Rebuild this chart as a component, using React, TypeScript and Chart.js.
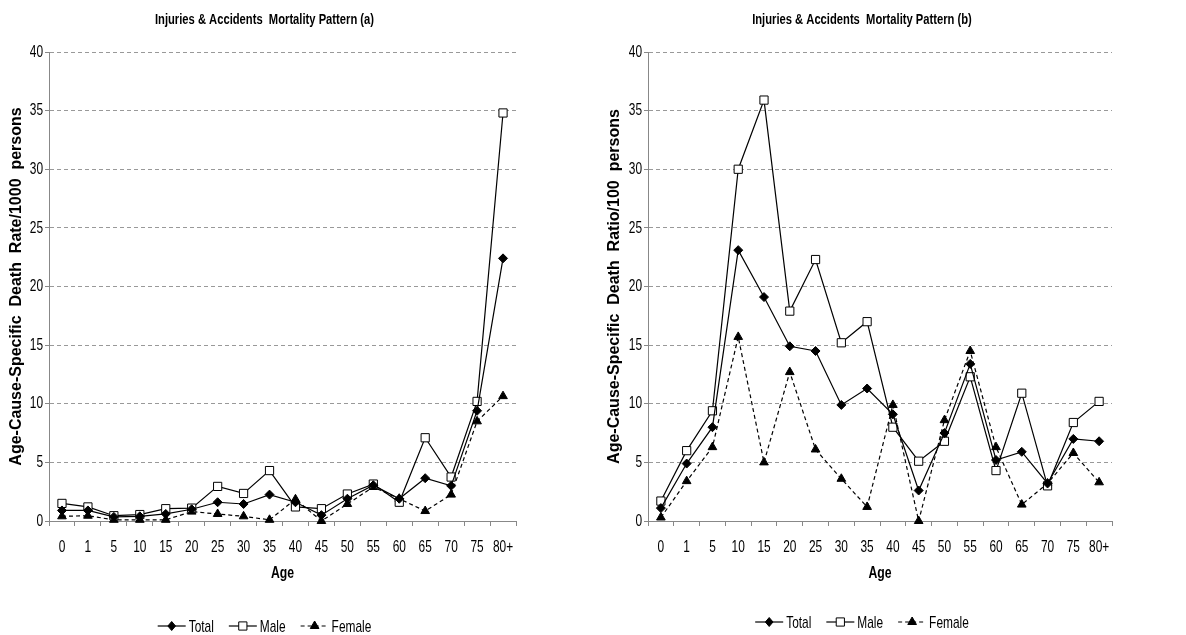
import React, { useEffect, useRef } from "react";
import { Chart, registerables } from "chart.js";

Chart.register(...registerables);

// Age groups shared by both panels
const ageGroups = ["0", "1", "5", "10", "15", "20", "25", "30", "35", "40", "45", "50", "55", "60", "65", "70", "75", "80+"];

// Panel (a): age-cause-specific death rate per 1000 persons
const rateTotal = [0.9, 0.9, 0.35, 0.4, 0.6, 1.0, 1.6, 1.45, 2.25, 1.6, 0.5, 1.9, 3.05, 1.9, 3.65, 3.0, 9.4, 22.4];
const rateMale = [1.5, 1.2, 0.45, 0.55, 1.05, 1.1, 2.95, 2.35, 4.3, 1.2, 1.05, 2.3, 3.15, 1.6, 7.1, 3.75, 10.2, 34.8];
const rateFemale = [0.4, 0.45, 0.1, 0.1, 0.1, 0.8, 0.6, 0.4, 0.1, 1.85, 0, 1.45, 2.9, 1.9, 0.85, 2.25, 8.5, 10.65];

// Panel (b): age-cause-specific death ratio per 100 persons
const ratioTotal = [1.1, 4.9, 8.0, 23.1, 19.1, 14.9, 14.5, 9.9, 11.3, 9.1, 2.6, 7.5, 13.4, 5.2, 5.9, 3.2, 7.0, 6.8];
const ratioMale = [1.7, 6.0, 9.4, 30.0, 35.9, 17.9, 22.3, 15.2, 17.0, 8.0, 5.1, 6.8, 12.3, 4.3, 10.9, 3.0, 8.4, 10.2];
const ratioFemale = [0.3, 3.4, 6.3, 15.7, 5.0, 12.7, 6.1, 3.6, 1.2, 9.9, 0, 8.6, 14.5, 6.3, 1.4, 3.2, 5.8, 3.3];

const seriesNames = ["Total", "Male", "Female"];
const xAxisTitle = "Age";
const yMax = 40;
const yStep = 5;

const SANS = "'Liberation Sans', Arial, sans-serif";
// horizontal squeeze used for the narrow label face
const SQUEEZE = 0.7;

type PanelSpec = {
  title: string;
  yTitle: string;
  total: number[];
  male: number[];
  female: number[];
  width: number;
  axisWidth: number;
  rightPad: number;
  yTitlePad: number;
  legendY: number;
};

function squeezedText(
  ctx: CanvasRenderingContext2D,
  text: string,
  x: number,
  y: number,
  font: string,
  align: CanvasTextAlign,
  sx: number
) {
  ctx.save();
  ctx.font = font;
  ctx.textAlign = align;
  ctx.textBaseline = "middle";
  ctx.translate(x, y);
  ctx.scale(sx, 1);
  ctx.fillText(text, 0, 0);
  ctx.restore();
}

function drawMarker(ctx: CanvasRenderingContext2D, style: string, x: number, y: number, r: number, fill: string) {
  ctx.beginPath();
  if (style === "rectRot") {
    ctx.moveTo(x - r * 0.85, y);
    ctx.lineTo(x, y - r);
    ctx.lineTo(x + r * 0.85, y);
    ctx.lineTo(x, y + r);
  } else if (style === "rect") {
    const s = Math.SQRT1_2 * r;
    ctx.rect(x - s, y - s, 2 * s, 2 * s);
  } else {
    ctx.moveTo(x, y - r);
    ctx.lineTo(x + r * 0.866, y + r * 0.5);
    ctx.lineTo(x - r * 0.866, y + r * 0.5);
  }
  ctx.closePath();
  ctx.fillStyle = fill;
  ctx.fill();
  ctx.lineWidth = 1;
  ctx.strokeStyle = "#000";
  ctx.stroke();
}

// Narrow tick labels, axis caption, panel heading and line-and-marker legend
const narrowText = {
  id: "narrowText",
  afterDraw(chart: any, _args: any, opts: any) {
    const ctx: CanvasRenderingContext2D = chart.ctx;
    const xs = chart.scales.x;
    const ys = chart.scales.y;
    const area = chart.chartArea;
    const cx = opts.centerX;
    ctx.save();
    ctx.fillStyle = "#000";

    const tickFont = `17px ${SANS}`;
    chart.data.labels.forEach((lab: string, i: number) => {
      squeezedText(ctx, lab, xs.getPixelForTick(i), area.bottom + 26, tickFont, "center", SQUEEZE);
    });
    ys.ticks.forEach((t: any) => {
      squeezedText(ctx, String(t.value), ys.right - 6, ys.getPixelForValue(t.value), tickFont, "right", SQUEEZE);
    });

    squeezedText(ctx, xAxisTitle, (area.left + area.right) / 2, area.bottom + 52, `bold 17px ${SANS}`, "center", 0.72);
    squeezedText(ctx, opts.title, cx, opts.titleY, `bold 14px ${SANS}`, "center", 0.8);

    // legend
    const legendFont = `17px ${SANS}`;
    ctx.font = legendFont;
    const lineLen = 28;
    const gap = 3;
    const spacing = 15;
    const items = chart.data.datasets.map((ds: any) => ({
      label: ds.label as string,
      dash: (ds.borderDash || []) as number[],
      style: ds.pointStyle as string,
      r: ds.pointRadius as number,
      fill: ds.pointBackgroundColor as string,
      w: ctx.measureText(ds.label).width * SQUEEZE,
    }));
    const total = items.reduce((s: number, it: any) => s + lineLen + gap + it.w, 0) + spacing * (items.length - 1);
    let x = cx - total / 2;
    const y = opts.legendY;
    for (const it of items) {
      ctx.save();
      ctx.setLineDash(it.dash);
      ctx.lineWidth = 1.2;
      ctx.strokeStyle = "#000";
      ctx.beginPath();
      ctx.moveTo(x, y);
      ctx.lineTo(x + lineLen, y);
      ctx.stroke();
      ctx.restore();
      drawMarker(ctx, it.style, x + lineLen / 2, y, it.r, it.fill);
      ctx.fillStyle = "#000";
      squeezedText(ctx, it.label, x + lineLen + gap, y + 1, legendFont, "left", SQUEEZE);
      x += lineLen + gap + it.w + spacing;
    }
    ctx.restore();
  },
};

function Panel({ spec }: { spec: PanelSpec }) {
  const ref = useRef<HTMLCanvasElement | null>(null);

  useEffect(() => {
    if (!ref.current) return;
    const plotLeft = spec.axisWidth;
    const plotRight = spec.width - spec.rightPad;
    const chart = new Chart(ref.current, {
      type: "line",
      data: {
        labels: ageGroups,
        datasets: [
          {
            label: seriesNames[0],
            data: spec.total,
            borderColor: "#000",
            borderWidth: 1.2,
            pointStyle: "rectRot",
            pointRadius: 4.5,
            pointBackgroundColor: "#000",
            pointBorderColor: "#000",
            pointBorderWidth: 1,
            tension: 0,
            clip: false,
          },
          {
            label: seriesNames[1],
            data: spec.male,
            borderColor: "#000",
            borderWidth: 1.2,
            pointStyle: "rect",
            pointRadius: 5.8,
            pointBackgroundColor: "#fff",
            pointBorderColor: "#000",
            pointBorderWidth: 1,
            tension: 0,
            clip: false,
          },
          {
            label: seriesNames[2],
            data: spec.female,
            borderColor: "#000",
            borderWidth: 1.2,
            borderDash: [4, 3],
            pointStyle: "triangle",
            pointRadius: 5,
            pointBackgroundColor: "#000",
            pointBorderColor: "#000",
            pointBorderWidth: 1,
            tension: 0,
            clip: false,
          },
        ],
      },
      options: {
        responsive: false,
        animation: false,
        events: [],
        layout: { padding: { top: 52, left: 0, right: spec.rightPad, bottom: 0 } },
        plugins: {
          legend: { display: false },
          tooltip: { enabled: false },
          title: { display: false },
          narrowText: {
            title: spec.title,
            centerX: (plotLeft + plotRight) / 2 - 18,
            titleY: 20,
            legendY: spec.legendY,
          },
        } as any,
        scales: {
          x: {
            offset: true,
            grid: { offset: true, drawOnChartArea: false, drawTicks: true, tickLength: 5, color: "#888", tickColor: "#888" },
            border: { color: "#888", width: 1 },
            ticks: { display: false, autoSkip: false },
            title: { display: false },
            afterFit(scale: any) {
              scale.height = 114;
            },
          },
          y: {
            min: 0,
            max: yMax,
            ticks: { display: false, stepSize: yStep },
            grid: { color: "#999", lineWidth: 1, drawTicks: true, tickLength: 4, tickColor: "#888" },
            border: { color: "#888", width: 1, dash: [4, 3] },
            title: {
              display: true,
              text: spec.yTitle,
              color: "#000",
              font: { family: SANS, size: 16, weight: "bold" },
              padding: { top: spec.yTitlePad, bottom: 0 },
            },
            afterFit(scale: any) {
              scale.width = spec.axisWidth;
            },
          },
        },
      },
      plugins: [narrowText],
    } as any);
    return () => chart.destroy();
  }, [spec]);

  return <canvas ref={ref} width={spec.width} height={635} style={{ display: "block", width: spec.width, height: 635 }} />;
}

const panelA: PanelSpec = {
  title: "Injuries & Accidents  Mortality Pattern (a)",
  yTitle: "Age-Cause-Specific  Death  Rate/1000  persons",
  total: rateTotal,
  male: rateMale,
  female: rateFemale,
  width: 590,
  axisWidth: 49,
  rightPad: 74,
  yTitlePad: 7,
  legendY: 626,
};

const panelB: PanelSpec = {
  title: "Injuries & Accidents  Mortality Pattern (b)",
  yTitle: "Age-Cause-Specific  Death  Ratio/100  persons",
  total: ratioTotal,
  male: ratioMale,
  female: ratioFemale,
  width: 596,
  axisWidth: 58,
  rightPad: 74,
  yTitlePad: 15,
  legendY: 622,
};

export default function App() {
  return (
    <div style={{ position: "fixed", left: 0, top: 0, width: 1186, height: 635, background: "#fff", display: "flex" }}>
      <Panel spec={panelA} />
      <Panel spec={panelB} />
    </div>
  );
}
